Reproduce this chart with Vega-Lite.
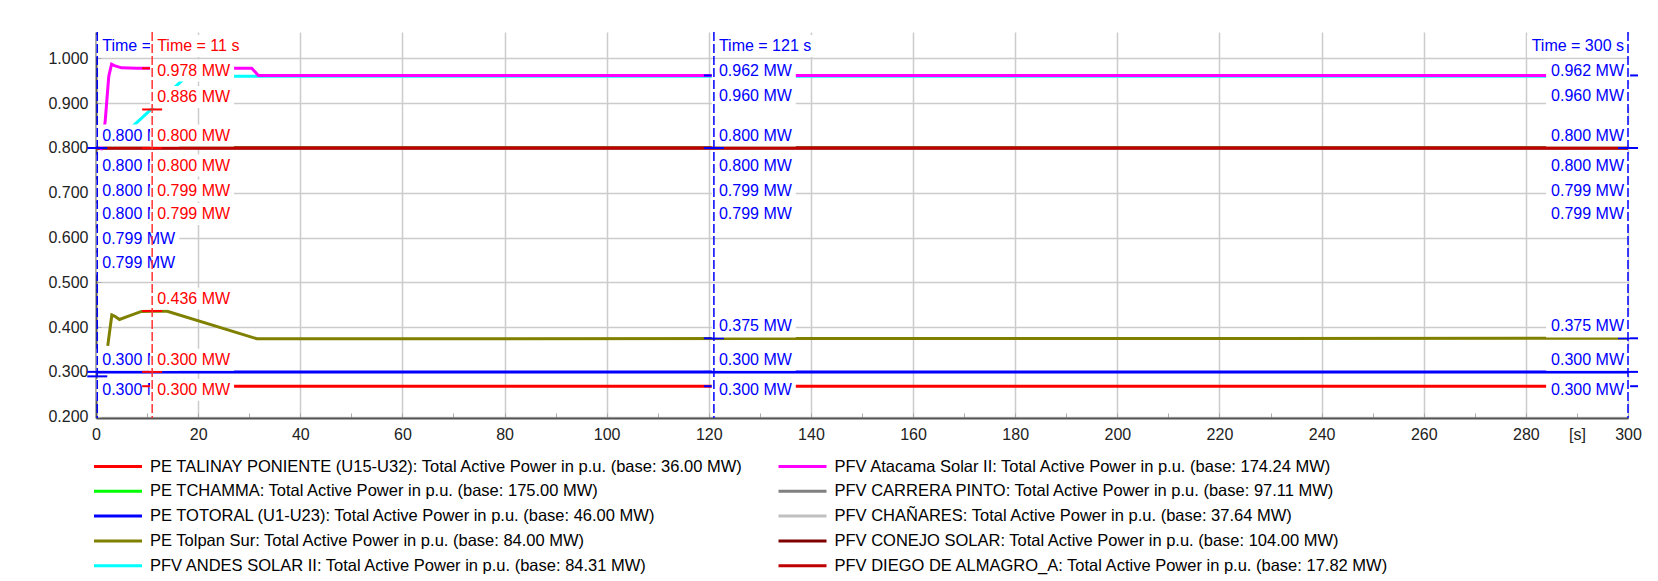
{
  "$schema": "https://vega.github.io/schema/vega-lite/v6.json",
  "width": 1532,
  "height": 386,
  "autosize": {"type": "none"},
  "padding": {"left": 96, "top": 32, "right": 30, "bottom": 163},
  "background": "white",
  "config": {"font": "Liberation Sans", "view": {"stroke": null}},
  "datasets": {
    "series": [
      {"k": "TAL", "name": "PE TALINAY PONIENTE (U15-U32): Total Active Power in p.u. (base: 36.00 MW)"},
      {"k": "TCH", "name": "PE TCHAMMA: Total Active Power in p.u. (base: 175.00 MW)"},
      {"k": "TOT", "name": "PE TOTORAL (U1-U23): Total Active Power in p.u. (base: 46.00 MW)"},
      {"k": "TOL", "name": "PE Tolpan Sur: Total Active Power in p.u. (base: 84.00 MW)"},
      {"k": "AND", "name": "PFV ANDES SOLAR II: Total Active Power in p.u. (base: 84.31 MW)"},
      {"k": "ATA", "name": "PFV Atacama Solar II: Total Active Power in p.u. (base: 174.24 MW)"},
      {"k": "CAR", "name": "PFV CARRERA PINTO: Total Active Power in p.u. (base: 97.11 MW)"},
      {"k": "CHA", "name": "PFV CHAÑARES: Total Active Power in p.u. (base: 37.64 MW)"},
      {"k": "CON", "name": "PFV CONEJO SOLAR: Total Active Power in p.u. (base: 104.00 MW)"},
      {"k": "DIE", "name": "PFV DIEGO DE ALMAGRO_A: Total Active Power in p.u. (base: 17.82 MW)"}
    ],
    "lines": [
      {"k": "TCH", "t": 0, "v": 0.8}, {"k": "TCH", "t": 300, "v": 0.8},
      {"k": "CAR", "t": 0, "v": 0.799}, {"k": "CAR", "t": 300, "v": 0.799},
      {"k": "CHA", "t": 0, "v": 0.799}, {"k": "CHA", "t": 300, "v": 0.799},
      {"k": "CON", "t": 0, "v": 0.8}, {"k": "CON", "t": 300, "v": 0.8},
      {"k": "DIE", "t": 0, "v": 0.8}, {"k": "DIE", "t": 300, "v": 0.8},
      {"k": "TAL", "t": 1, "v": 0.268}, {"k": "TAL", "t": 300, "v": 0.268},
      {"k": "TOT", "t": 0, "v": 0.3}, {"k": "TOT", "t": 300, "v": 0.3},
      {"k": "TOL", "t": 2.3, "v": 0.358}, {"k": "TOL", "t": 3.1, "v": 0.427}, {"k": "TOL", "t": 3.7, "v": 0.424},
      {"k": "TOL", "t": 4.6, "v": 0.417}, {"k": "TOL", "t": 6.5, "v": 0.425}, {"k": "TOL", "t": 8.9, "v": 0.435},
      {"k": "TOL", "t": 13.8, "v": 0.436}, {"k": "TOL", "t": 31.5, "v": 0.374}, {"k": "TOL", "t": 300, "v": 0.375},
      {"k": "AND", "t": 3, "v": 0.805}, {"k": "AND", "t": 7.7, "v": 0.854}, {"k": "AND", "t": 10.8, "v": 0.886},
      {"k": "AND", "t": 16.4, "v": 0.946}, {"k": "AND", "t": 17.7, "v": 0.96}, {"k": "AND", "t": 300, "v": 0.96},
      {"k": "ATA", "t": 1, "v": 0.795}, {"k": "ATA", "t": 1.8, "v": 0.86}, {"k": "ATA", "t": 2.5, "v": 0.96},
      {"k": "ATA", "t": 3.05, "v": 0.987}, {"k": "ATA", "t": 3.6, "v": 0.984}, {"k": "ATA", "t": 5, "v": 0.979},
      {"k": "ATA", "t": 8, "v": 0.978}, {"k": "ATA", "t": 30.5, "v": 0.978}, {"k": "ATA", "t": 31.8, "v": 0.962},
      {"k": "ATA", "t": 300, "v": 0.962}
    ],
    "cursors": [
      {"c": "b0", "t": 0.25}, {"c": "r11", "t": 11}, {"c": "b121", "t": 121}, {"c": "b300", "t": 300}
    ],
    "marks": [
      {"c": "b0", "t": 0.25, "v": 0.8}, {"c": "b0", "t": 0.25, "v": 0.3}, {"c": "b0", "t": 0.25, "v": 0.29},
      {"c": "r11", "t": 11, "v": 0.978}, {"c": "r11", "t": 11, "v": 0.886}, {"c": "r11", "t": 11, "v": 0.8},
      {"c": "r11", "t": 11, "v": 0.436}, {"c": "r11", "t": 11, "v": 0.3}, {"c": "r11", "t": 11, "v": 0.268},
      {"c": "b121", "t": 121, "v": 0.962}, {"c": "b121", "t": 121, "v": 0.8}, {"c": "b121", "t": 121, "v": 0.375},
      {"c": "b121", "t": 121, "v": 0.3}, {"c": "b121", "t": 121, "v": 0.268},
      {"c": "b300", "t": 300, "v": 0.962}, {"c": "b300", "t": 300, "v": 0.8}, {"c": "b300", "t": 300, "v": 0.375},
      {"c": "b300", "t": 300, "v": 0.3}, {"c": "b300", "t": 300, "v": 0.268}
    ],
    "labels": [
      {"c": "b0", "ty": "time", "t": 0.25, "v": 1.0275, "txt": "Time = 0.25 s"},
      {"c": "b0", "ty": "val", "t": 0.25, "v": 0.8278, "txt": "0.800 MW"},
      {"c": "b0", "ty": "val", "t": 0.25, "v": 0.7608, "txt": "0.800 MW"},
      {"c": "b0", "ty": "val", "t": 0.25, "v": 0.705, "txt": "0.800 MW"},
      {"c": "b0", "ty": "val", "t": 0.25, "v": 0.6526, "txt": "0.800 MW"},
      {"c": "b0", "ty": "val", "t": 0.25, "v": 0.5957, "txt": "0.799 MW"},
      {"c": "b0", "ty": "val", "t": 0.25, "v": 0.5421, "txt": "0.799 MW"},
      {"c": "b0", "ty": "val", "t": 0.25, "v": 0.3271, "txt": "0.300 MW"},
      {"c": "b0", "ty": "val", "t": 0.25, "v": 0.2602, "txt": "0.300 MW"},
      {"c": "r11", "ty": "time", "t": 11, "v": 1.0275, "txt": "Time = 11 s"},
      {"c": "r11", "ty": "val", "t": 11, "v": 0.9729, "txt": "0.978 MW"},
      {"c": "r11", "ty": "val", "t": 11, "v": 0.914, "txt": "0.886 MW"},
      {"c": "r11", "ty": "val", "t": 11, "v": 0.8278, "txt": "0.800 MW"},
      {"c": "r11", "ty": "val", "t": 11, "v": 0.7608, "txt": "0.800 MW"},
      {"c": "r11", "ty": "val", "t": 11, "v": 0.705, "txt": "0.799 MW"},
      {"c": "r11", "ty": "val", "t": 11, "v": 0.6526, "txt": "0.799 MW"},
      {"c": "r11", "ty": "val", "t": 11, "v": 0.4633, "txt": "0.436 MW"},
      {"c": "r11", "ty": "val", "t": 11, "v": 0.3271, "txt": "0.300 MW"},
      {"c": "r11", "ty": "val", "t": 11, "v": 0.2602, "txt": "0.300 MW"},
      {"c": "b121", "ty": "time", "t": 121, "v": 1.0275, "txt": "Time = 121 s"},
      {"c": "b121", "ty": "val", "t": 121, "v": 0.9729, "txt": "0.962 MW"},
      {"c": "b121", "ty": "val", "t": 121, "v": 0.9171, "txt": "0.960 MW"},
      {"c": "b121", "ty": "val", "t": 121, "v": 0.8278, "txt": "0.800 MW"},
      {"c": "b121", "ty": "val", "t": 121, "v": 0.7608, "txt": "0.800 MW"},
      {"c": "b121", "ty": "val", "t": 121, "v": 0.705, "txt": "0.799 MW"},
      {"c": "b121", "ty": "val", "t": 121, "v": 0.6526, "txt": "0.799 MW"},
      {"c": "b121", "ty": "val", "t": 121, "v": 0.4015, "txt": "0.375 MW"},
      {"c": "b121", "ty": "val", "t": 121, "v": 0.3271, "txt": "0.300 MW"},
      {"c": "b121", "ty": "val", "t": 121, "v": 0.2602, "txt": "0.300 MW"},
      {"c": "b300", "ty": "time", "t": 300, "v": 1.0275, "txt": "Time = 300 s"},
      {"c": "b300", "ty": "val", "t": 300, "v": 0.9729, "txt": "0.962 MW"},
      {"c": "b300", "ty": "val", "t": 300, "v": 0.9171, "txt": "0.960 MW"},
      {"c": "b300", "ty": "val", "t": 300, "v": 0.8278, "txt": "0.800 MW"},
      {"c": "b300", "ty": "val", "t": 300, "v": 0.7608, "txt": "0.800 MW"},
      {"c": "b300", "ty": "val", "t": 300, "v": 0.705, "txt": "0.799 MW"},
      {"c": "b300", "ty": "val", "t": 300, "v": 0.6526, "txt": "0.799 MW"},
      {"c": "b300", "ty": "val", "t": 300, "v": 0.4015, "txt": "0.375 MW"},
      {"c": "b300", "ty": "val", "t": 300, "v": 0.3271, "txt": "0.300 MW"},
      {"c": "b300", "ty": "val", "t": 300, "v": 0.2602, "txt": "0.300 MW"}
    ]
  },
  "layer": [
    {
      "data": {"name": "lines"},
      "transform": [{"lookup": "k", "from": {"data": {"name": "series"}, "key": "k", "fields": ["name"]}}],
      "mark": {"type": "line", "strokeWidth": 3},
      "encoding": {
        "x": {
          "field": "t", "type": "quantitative",
          "scale": {"domain": [0, 300], "nice": false, "zero": false},
          "axis": {
            "title": null,
            "values": [0,10,20,30,40,50,60,70,80,90,100,110,120,130,140,150,160,170,180,190,200,210,220,230,240,250,260,270,280,290,300],
            "labelExpr": "datum.value == 290 ? '[s]' : (datum.value % 20 == 0 ? datum.label : '')",
            "format": "d",
            "grid": true, "gridColor": "#CCCCCC", "gridWidth": 1.5,
            "gridOpacity": {"condition": {"test": "datum.value % 20 != 0 || datum.value == 0", "value": 0}, "value": 1},
            "tickSize": -5, "tickColor": "#AAAAAA", "tickWidth": 1,
            "domainColor": "#555555", "domainWidth": 2,
            "labelFontSize": 16, "labelColor": "#222222", "labelPadding": 13,
            "labelFlush": false, "labelOverlap": false
          }
        },
        "y": {
          "field": "v", "type": "quantitative",
          "scale": {"domain": [0.197, 1.059], "nice": false, "zero": false},
          "axis": {
            "title": null,
            "values": [0.2,0.225,0.25,0.275,0.3,0.325,0.35,0.375,0.4,0.425,0.45,0.475,0.5,0.525,0.55,0.575,0.6,0.625,0.65,0.675,0.7,0.725,0.75,0.775,0.8,0.825,0.85,0.875,0.9,0.925,0.95,0.975,1.0,1.025,1.05],
            "labelExpr": "abs(datum.value * 10 - round(datum.value * 10)) > 0.01 ? '' : format(datum.value, '.3f')",
            "grid": true, "gridColor": "#CCCCCC", "gridWidth": 1.5,
            "gridOpacity": {"condition": {"test": "abs(datum.value * 10 - round(datum.value * 10)) > 0.01", "value": 0}, "value": 1},
            "tickSize": -5, "tickColor": "#AAAAAA", "tickWidth": 1,
            "domainColor": "#555555", "domainWidth": 2,
            "labelFontSize": 16, "labelColor": "#222222", "labelPadding": 13,
            "labelOverlap": false
          }
        },
        "color": {
          "field": "name", "type": "nominal",
          "scale": {
            "domain": [
              "PE TALINAY PONIENTE (U15-U32): Total Active Power in p.u. (base: 36.00 MW)",
              "PE TCHAMMA: Total Active Power in p.u. (base: 175.00 MW)",
              "PE TOTORAL (U1-U23): Total Active Power in p.u. (base: 46.00 MW)",
              "PE Tolpan Sur: Total Active Power in p.u. (base: 84.00 MW)",
              "PFV ANDES SOLAR II: Total Active Power in p.u. (base: 84.31 MW)",
              "PFV Atacama Solar II: Total Active Power in p.u. (base: 174.24 MW)",
              "PFV CARRERA PINTO: Total Active Power in p.u. (base: 97.11 MW)",
              "PFV CHAÑARES: Total Active Power in p.u. (base: 37.64 MW)",
              "PFV CONEJO SOLAR: Total Active Power in p.u. (base: 104.00 MW)",
              "PFV DIEGO DE ALMAGRO_A: Total Active Power in p.u. (base: 17.82 MW)"
            ],
            "range": ["#FF0000", "#00FF00", "#0000FF", "#808000", "#00FFFF", "#FF00FF", "#808080", "#C0C0C0", "#800000", "#C00000"]
          },
          "legend": {
            "title": null, "orient": "none", "legendX": 12.5, "legendY": 425,
            "columns": 2, "symbolType": "M-3,0H3", "symbolSize": 256, "symbolStrokeWidth": 3,
            "labelFontSize": 16.5, "labelColor": "#000000", "labelLimit": 900, "labelOffset": 22.5,
            "rowPadding": 6.8, "columnPadding": 27.5, "padding": 0
          }
        }
      }
    },
    {
      "data": {"name": "marks"},
      "transform": [{"filter": "datum.c != 'r11'"}],
      "mark": {"type": "point", "shape": "M-1,0H1", "size": 400, "filled": false, "strokeWidth": 2, "opacity": 1, "color": "#0000FF"},
      "encoding": {"x": {"field": "t", "type": "quantitative"}, "y": {"field": "v", "type": "quantitative"}}
    },
    {
      "data": {"name": "labels"},
      "transform": [{"filter": "datum.c == 'b0'"}],
      "mark": {"type": "point", "size": 7056, "filled": true, "fill": "white", "stroke": null, "opacity": 1},
      "encoding": {
        "x": {"field": "t", "type": "quantitative"}, "y": {"field": "v", "type": "quantitative"},
        "shape": {"condition": {"test": "datum.ty == 'time'", "value": "M-0.02,-0.262H2.4V0.262H-0.02Z"}, "value": "M-0.02,-0.262H1.95V0.262H-0.02Z"}
      }
    },
    {
      "data": {"name": "labels"},
      "transform": [{"filter": "datum.c == 'b0'"}],
      "mark": {"type": "text", "align": "left", "baseline": "middle", "dx": 5, "fontSize": 16, "color": "#0000FF"},
      "encoding": {"x": {"field": "t", "type": "quantitative"}, "y": {"field": "v", "type": "quantitative"}, "text": {"field": "txt"}}
    },
    {
      "data": {"name": "marks"},
      "transform": [{"filter": "datum.c == 'r11'"}],
      "mark": {"type": "point", "shape": "M-1,0H1", "size": 400, "filled": false, "strokeWidth": 2, "opacity": 1, "color": "#FF0000"},
      "encoding": {"x": {"field": "t", "type": "quantitative"}, "y": {"field": "v", "type": "quantitative"}}
    },
    {
      "data": {"name": "labels"},
      "transform": [{"filter": "datum.c == 'r11' || datum.c == 'b121'"}],
      "mark": {"type": "point", "size": 7056, "filled": true, "fill": "white", "stroke": null, "opacity": 1},
      "encoding": {
        "x": {"field": "t", "type": "quantitative"}, "y": {"field": "v", "type": "quantitative"},
        "shape": {"condition": {"test": "datum.ty == 'time'", "value": "M-0.05,-0.262H2.4V0.262H-0.05Z"}, "value": "M-0.05,-0.262H1.95V0.262H-0.05Z"}
      }
    },
    {
      "data": {"name": "labels"},
      "transform": [{"filter": "datum.c == 'b300'"}],
      "mark": {"type": "point", "size": 7056, "filled": true, "fill": "white", "stroke": null, "opacity": 1},
      "encoding": {
        "x": {"field": "t", "type": "quantitative"}, "y": {"field": "v", "type": "quantitative"},
        "shape": {"condition": {"test": "datum.ty == 'time'", "value": "M0.05,-0.262H-2.4V0.262H0.05Z"}, "value": "M0.05,-0.262H-1.95V0.262H0.05Z"}
      }
    },
    {
      "data": {"name": "labels"},
      "transform": [{"filter": "datum.c == 'r11' || datum.c == 'b121'"}],
      "mark": {"type": "text", "align": "left", "baseline": "middle", "dx": 5, "fontSize": 16},
      "encoding": {
        "x": {"field": "t", "type": "quantitative"}, "y": {"field": "v", "type": "quantitative"}, "text": {"field": "txt"},
        "color": {"condition": {"test": "datum.c == 'r11'", "value": "#FF0000"}, "value": "#0000FF"}
      }
    },
    {
      "data": {"name": "labels"},
      "transform": [{"filter": "datum.c == 'b300'"}],
      "mark": {"type": "text", "align": "right", "baseline": "middle", "dx": -4, "fontSize": 16, "color": "#0000FF"},
      "encoding": {"x": {"field": "t", "type": "quantitative"}, "y": {"field": "v", "type": "quantitative"}, "text": {"field": "txt"}}
    },
    {
      "data": {"name": "cursors"},
      "mark": {"type": "rule", "strokeDash": [9, 3], "strokeWidth": 1.5},
      "encoding": {
        "x": {"field": "t", "type": "quantitative"},
        "color": {"condition": {"test": "datum.c == 'r11'", "value": "#FF3333"}, "value": "#0000FF"}
      }
    }
  ]
}
